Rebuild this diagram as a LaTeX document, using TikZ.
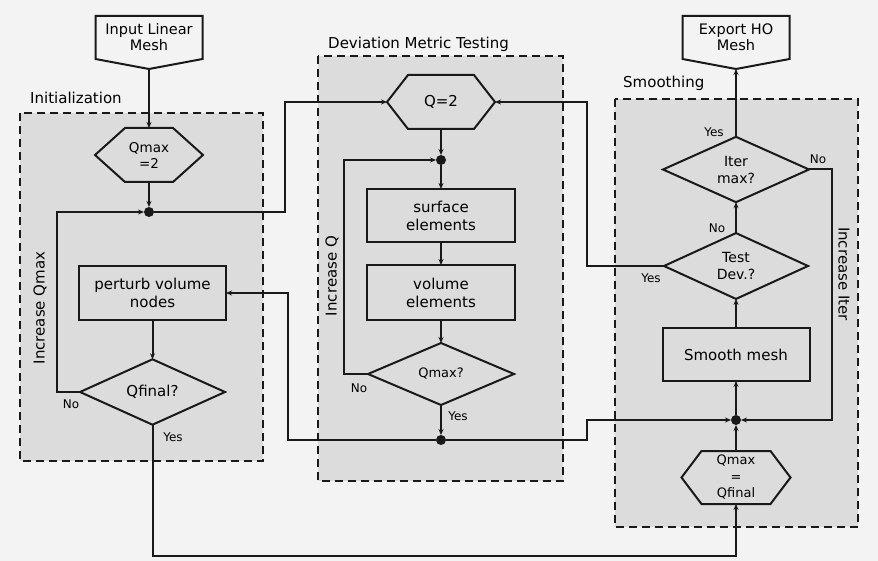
\documentclass[tikz,border=0pt]{standalone}
\usepackage{fontspec}
\setmainfont{DejaVu Sans}
\usetikzlibrary{arrows.meta,shapes.geometric}
\definecolor{bgc}{RGB}{243,243,243}
\definecolor{grp}{RGB}{220,220,220}
\definecolor{ink}{RGB}{25,25,25}
\newcommand\hexdraw[2]{\draw[line] (#1.west) -- ([xshift=#2]#1.north west) -- ([xshift=-#2]#1.north east) -- (#1.east) -- ([xshift=-#2]#1.south east) -- ([xshift=#2]#1.south west) -- cycle;}
\newcommand\pentdraw[1]{\draw[line] (#1.north west) -- (#1.north east) -- (#1.south east) -- ([yshift=-10pt]#1.south) -- (#1.south west) -- cycle;}
\begin{document}
\begin{tikzpicture}[x=1pt,y=-1pt,
 line/.style={draw=ink,line width=2pt},
 arr/.style={draw=ink,line width=2pt,-{Stealth[length=6pt,width=5pt]}},
 grpbox/.style={draw=ink,fill=grp,line width=2.4pt,dash pattern=on 8pt off 5pt},
 proc/.style={rectangle,draw=ink,line width=2pt,inner sep=0pt,outer sep=0pt,align=center,font=\fontsize{15}{18}\selectfont},
 hexa/.style={rectangle,inner sep=0pt,outer sep=0pt,align=center},
 dec/.style={diamond,draw=ink,line width=2pt,inner sep=0pt,outer sep=0pt,align=center,font=\fontsize{14}{17}\selectfont},
 dot/.style={circle,fill=ink,inner sep=0pt,outer sep=0pt,minimum size=10pt},
 lbl/.style={font=\fontsize{12}{14}\selectfont,inner sep=0pt},
 ttl/.style={font=\fontsize{15}{18}\selectfont,inner sep=0pt,anchor=base west},
 rot/.style={font=\fontsize{15}{18}\selectfont,inner sep=0pt},
]
\useasboundingbox (0,0) rectangle (878,561);
\fill[bgc] (0,0) rectangle (878,561);

% groups
\draw[grpbox] (20,113) rectangle (263,461);
\draw[grpbox] (318,56) rectangle (563,481);
\draw[grpbox] (615,99) rectangle (858,527);
\node[ttl] (tInit) at (30,104) {Initialization};
\node[ttl] (tDev) at (328,49) {Deviation Metric Testing};
\node[ttl] (tSm) at (623,88) {Smoothing};

% terminals
\node[hexa,minimum width=107pt,minimum height=43pt,font=\fontsize{14.5}{16}\selectfont] (in) at (149,37.5) {Input Linear\\Mesh};
\pentdraw{in}
\coordinate (inTip) at ([yshift=-10pt]in.south);
\node[hexa,minimum width=107pt,minimum height=43pt,font=\fontsize{14.5}{16}\selectfont] (ex) at (736,37.5) {Export HO\\Mesh};
\pentdraw{ex}
\coordinate (exTip) at ([yshift=-10pt]ex.south);

% hexagons
\node[hexa,minimum width=108pt,minimum height=54pt,font=\fontsize{13.5}{16}\selectfont] (qmax) at (149,155) {Qmax\\=2};
\hexdraw{qmax}{30pt}
\node[hexa,minimum width=108pt,minimum height=54pt,font=\fontsize{15}{18}\selectfont] (q2) at (441,102) {Q=2};
\hexdraw{q2}{21pt}
\node[hexa,minimum width=109pt,minimum height=53pt,font=\fontsize{13}{16.5}\selectfont] (qff) at (736,477.5) {Qmax\\=\\Qfinal};
\hexdraw{qff}{20pt}

% process boxes
\node[proc,minimum width=147pt,minimum height=54pt] (pert) at (152.5,293) {perturb volume\\nodes};
\node[proc,minimum width=148pt,minimum height=53pt] (surf) at (441,215.5) {surface\\elements};
\node[proc,minimum width=148pt,minimum height=55pt] (vol) at (441,292.5) {volume\\elements};
\node[proc,minimum width=147pt,minimum height=53pt] (smooth) at (736,354.5) {Smooth mesh};

% decisions
\node[dec,minimum width=145pt,minimum height=62pt,font=\fontsize{15}{18}\selectfont] (qf) at (152.5,392) {Qfinal?};
\node[dec,minimum width=146pt,minimum height=62pt,font=\fontsize{13}{16}\selectfont] (qm) at (441,374) {Qmax?};
\node[dec,minimum width=146pt,minimum height=63pt] (im) at (736,169.5) {Iter\\max?};
\node[dec,minimum width=144pt,minimum height=62pt] (td) at (736,266) {Test\\Dev.?};

% junctions
\node[dot] (j1) at (149,212) {};
\node[dot] (j2) at (441,160) {};
\node[dot] (j3) at (441,440) {};
\node[dot] (j4) at (736,420) {};

% connectors: initialization
\draw[arr] (inTip) -- (qmax.north);
\draw[arr] (qmax.south) -- (j1);
\draw[arr] (j1) -- (285,212) |- (q2.west);
\draw[arr] (qf.west) -| (57,212) -- (j1);
\draw[arr] (pert.south) -- (qf.north);
\draw[arr] (qf.south) -- (152.5,556) -| (qff.south);

% connectors: deviation
\draw[arr] (q2.south) -- (j2);
\draw[arr] (j2) -- (surf.north);
\draw[arr] (surf.south) -- (vol.north);
\draw[arr] (vol.south) -- (qm.north);
\draw[arr] (qm.west) -| (344,160) -- (j2);
\draw[arr] (qm.south) -- (j3);
\draw[arr] (j3) -- (288,440) |- (pert.east);
\draw[arr] (j3) -- (587,440) |- (j4);

% connectors: smoothing
\draw[arr] (qff.north) -- (j4);
\draw[arr] (j4) -- (smooth.south);
\draw[arr] (smooth.north) -- (td.south);
\draw[arr] (td.north) -- (im.south);
\draw[arr] (im.north) -- (exTip);
\draw[arr] (im.east) -| (832,420) -- (j4);
\draw[arr] (td.west) -- (587,266) |- (q2.east);

% labels
\node[lbl] (l1) at (71,404) {No};
\node[lbl] (l2) at (173,437) {Yes};
\node[lbl] (l3) at (359,388) {No};
\node[lbl] (l4) at (458,416) {Yes};
\node[lbl] (l5) at (714,132) {Yes};
\node[lbl] (l6) at (818,159) {No};
\node[lbl] (l7) at (717,228) {No};
\node[lbl] (l8) at (651,278) {Yes};

\node[rot,rotate=90] (r1) at (40,308) {Increase Qmax};
\node[rot,rotate=90] (r2) at (332,276) {Increase Q};
\node[rot,rotate=-90] (r3) at (844,274) {Increase Iter};
\end{tikzpicture}
\end{document}
